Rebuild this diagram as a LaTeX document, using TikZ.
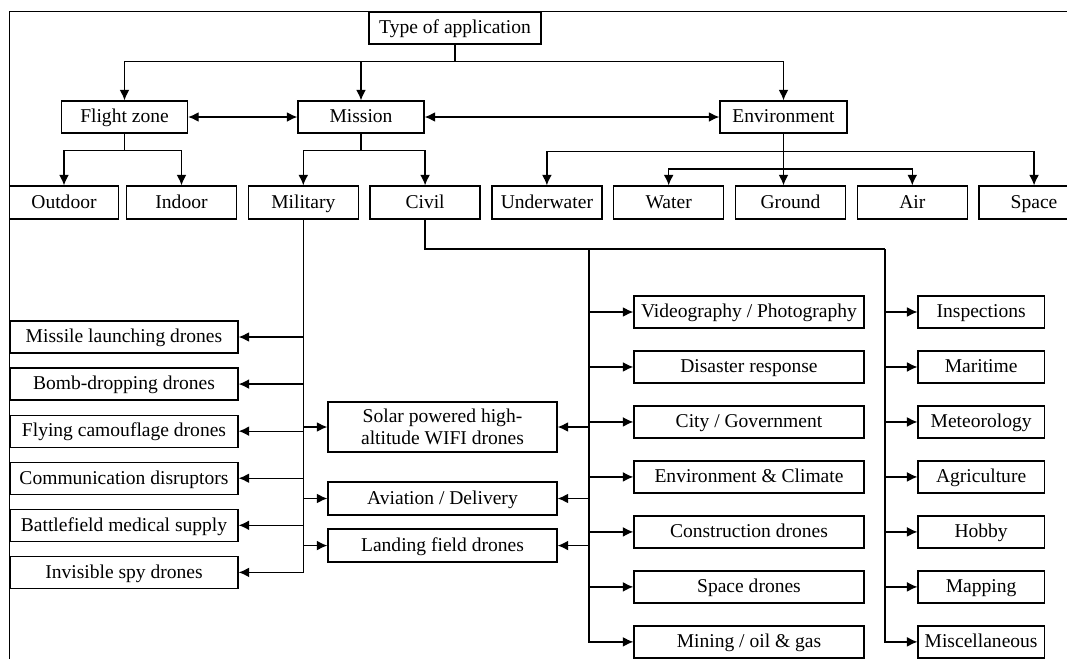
\documentclass[tikz,border=0pt]{standalone}
\usepackage{fontspec}
\setmainfont{Liberation Serif}
\usetikzlibrary{positioning}
\usetikzlibrary{arrows.meta}

\begin{document}
\begin{tikzpicture}[x=0.025cm, y=-0.025cm, line width=0.9pt, >={Latex[length=7.5pt, width=7pt]},
			internal/.style={draw, rectangle, inner sep=2pt, font=\fontsize{13.9}{15.8}\selectfont},
			box/.style={internal, text height=1.8ex, text depth=0pt, minimum height=0.8cm},
			leaf/.style={box, minimum width=2.75cm, minimum height=0.825cm}]
			\useasboundingbox (0,0) rectangle (1067,659);
			\draw[line width=0.7pt] (9,659) -- (9,11) -- (1067,11);
			
			\node[box, minimum width=4.3cm](node1) at (455,28) {Type of application};
			\node[box, minimum width=3.15cm](node11) at (124.5,117) {Flight zone};
			\node[box, minimum width=3.15cm](node12) at (361,117) {Mission};
			\node[box, minimum width=3.175cm](node13) at (783.5,117) {Environment};
			
			\node[leaf, minimum width=2.74cm](node111) at (64,202.5) {Outdoor};
			\node[leaf](node112) at (181.5,202.5) {Indoor};
			\node[leaf, right=0.2625cm of node112](node121) {Military};
			\node[leaf, right=0.2625cm of node121](node122) {Civil};
			\node[leaf, right=0.2625cm of node122](node131) {Underwater};
			\node[leaf, right=0.2625cm of node131](node132) {Water};
			\node[leaf, right=0.2625cm of node132](node133) {Ground};
			\node[leaf, right=0.2625cm of node133](node134) {Air};
			\node[leaf, right=0.2625cm of node134](node135) {Space};
			
			\node[box, minimum width=5.7cm](node1211) at (124,337) {Missile launching drones};
			\node[box, minimum width=5.7cm, below=0.345cm of node1211](node1212) {Bomb-dropping drones};
			\node[box, minimum width=5.7cm, below=0.345cm of node1212](node1213) {Flying camouflage drones};
			\node[box, minimum width=5.7cm, below=0.345cm of node1213](node1214) {Communication disruptors};
			\node[box, minimum width=5.7cm, below=0.345cm of node1214](node1215) {Battlefield medical supply};
			\node[box, minimum width=5.7cm, below=0.345cm of node1215](node1216) {Invisible spy drones};
			
			\node[internal, align=center, minimum width=5.725cm, minimum height=1.25cm](node1241) at (442.5,427) {Solar powered high-\\altitude WIFI drones};
			\node[box, minimum width=5.725cm, minimum height=0.825cm](node1242) at (442.5,498.5) {Aviation / Delivery};
			\node[box, minimum width=5.725cm, minimum height=0.825cm, below=0.32cm of node1242](node1243) {Landing field drones};
			
			\node[box, minimum width=5.75cm](node1221) at (749,312) {Videography / Photography};
			\node[box, minimum width=5.75cm, below=0.5425cm of node1221](node1222) {Disaster response};
			\node[box, minimum width=5.75cm, below=0.5425cm of node1222](node1223) {City / Government};
			\node[box, minimum width=5.75cm, below=0.5425cm of node1223](node1224) {Environment \& Climate};
			\node[box, minimum width=5.75cm, below=0.5425cm of node1224](node1225) {Construction drones};
			\node[box, minimum width=5.75cm, below=0.5425cm of node1225](node1226) {Space drones};
			\node[box, minimum width=5.75cm, below=0.5425cm of node1226](node1227) {Mining / oil \& gas};
			
			\node[box, minimum width=3.15cm, right=1.32cm of node1221](node1231) {Inspections};
			\node[box, minimum width=3.15cm, right=1.32cm of node1222](node1232) {Maritime};
			\node[box, minimum width=3.15cm, right=1.32cm of node1223](node1233) {Meteorology};
			\node[box, minimum width=3.15cm, right=1.32cm of node1224](node1234) {Agriculture};
			\node[box, minimum width=3.15cm, right=1.32cm of node1225](node1235) {Hobby};
			\node[box, minimum width=3.15cm, right=1.32cm of node1226](node1236) {Mapping};
			\node[box, minimum width=3.15cm, right=1.32cm of node1227](node1237) {Miscellaneous};
			
			\draw (node1.south) -- ++(0,17) coordinate (top);
			\draw[->] (top) -| (node11);
			\draw[->] (top -| node12) -- (node12);
			\draw[->] (top) -| (node13);
			\draw[<->] (node11) -- (node12);
			\draw[<->] (node12) -- (node13);
			
			\draw (node11.south) -- ++(0,17) coordinate (fzbus);
			\draw[->] (fzbus) -| (node111);
			\draw[->] (fzbus) -| (node112);
			\draw (node12.south) -- ++(0,17) coordinate (misbus);
			\draw[->] (misbus) -| (node121);
			\draw[->] (misbus) -| (node122);
			
			\draw (node13.south) -- ++(0,17.5) coordinate (envbus);
			\coordinate (envbus2) at (783.5,169);
			\draw[->] (envbus) -| (node131);
			\draw[->] (envbus) -| (node135);
			\draw[->] (envbus) -- (envbus |- node133.north);
			\draw[->] (envbus2) -| (node132);
			\draw[->] (envbus2) -| (node134);
			
			\draw[->] (node121) |- (node1216);
			\draw[->] (node121 |- node1211) -- (node1211);
			\draw[->] (node121 |- node1212) -- (node1212);
			\draw[->] (node121 |- node1213) -- (node1213);
			\draw[->] (node121 |- node1214) -- (node1214);
			\draw[->] (node121 |- node1215) -- (node1215);
			\draw[->] (node121 |- node1241) -- (node1241);
			\draw[->] (node121 |- node1242) -- (node1242);
			\draw[->] (node121 |- node1243) -- (node1243);
			
			\coordinate (cbus) at (589,249);
			\coordinate (rbus) at (885,249);
			\draw (node122) |- (rbus);
			\draw[->] (cbus) |- (node1227);
			\draw[->] (rbus) |- (node1237);
			\draw[->] (cbus |- node1221) -- (node1221);
			\draw[->] (cbus |- node1222) -- (node1222);
			\draw[->] (cbus |- node1223) -- (node1223);
			\draw[->] (cbus |- node1224) -- (node1224);
			\draw[->] (cbus |- node1225) -- (node1225);
			\draw[->] (cbus |- node1226) -- (node1226);
			\draw[->] (cbus |- node1241) -- (node1241);
			\draw[->] (cbus |- node1242) -- (node1242);
			\draw[->] (cbus |- node1243) -- (node1243);
			\draw[->] (rbus |- node1231) -- (node1231);
			\draw[->] (rbus |- node1232) -- (node1232);
			\draw[->] (rbus |- node1233) -- (node1233);
			\draw[->] (rbus |- node1234) -- (node1234);
			\draw[->] (rbus |- node1235) -- (node1235);
			\draw[->] (rbus |- node1236) -- (node1236);
			
		\end{tikzpicture}
\end{document}
